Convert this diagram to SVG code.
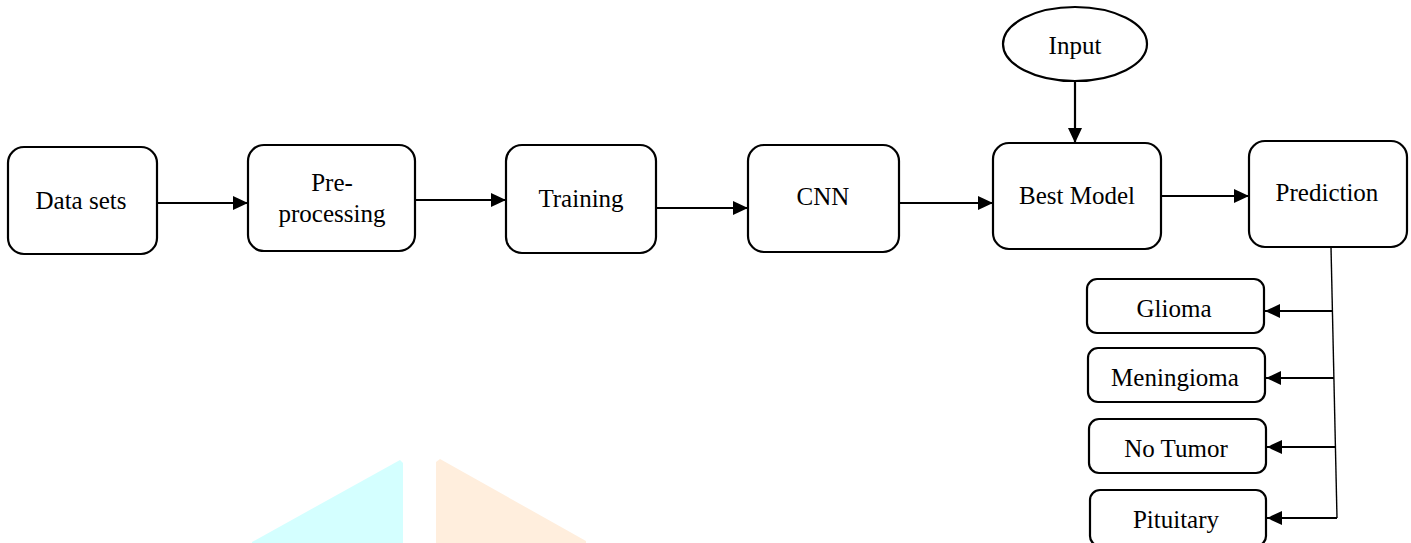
<svg xmlns="http://www.w3.org/2000/svg" width="1411" height="543" viewBox="0 0 1411 543">
<style>
.box{fill:#fff;stroke:#000;stroke-width:2.2}
.lbl{font-family:"Liberation Serif","Times New Roman",serif;font-size:25px;fill:#000;text-anchor:middle}
.con{stroke:#000;stroke-width:2.2;fill:none}
</style>
<defs>
<marker id="ah" markerUnits="userSpaceOnUse" markerWidth="16" markerHeight="14" refX="15" refY="7" orient="auto">
<path d="M0,0 L15,7 L0,14 Z" fill="#000"/>
</marker>
</defs>
<rect width="1411" height="543" fill="#fff"/>
<g id="watermark">
<polygon points="252,542 400,460 403,463 403,543 252,543" fill="#d4ffff"/>
<polygon points="436,462 440,459 586,541 586,543 436,543" fill="#ffeedd"/>
</g>
<g id="connectors">
<path class="con" d="M157,203 H248" marker-end="url(#ah)"/>
<path class="con" d="M415,200 H506" marker-end="url(#ah)"/>
<path class="con" d="M656,208 H748" marker-end="url(#ah)"/>
<path class="con" d="M899,203 H993" marker-end="url(#ah)"/>
<path class="con" d="M1075,82 V143" marker-end="url(#ah)"/>
<path class="con" d="M1161,196 H1249" marker-end="url(#ah)"/>
<path d="M1331,247 L1337,518" stroke="#000" stroke-width="1.4" fill="none"/>
<path class="con" d="M1332.4,311 H1265" marker-end="url(#ah)"/>
<path class="con" d="M1333.9,378 H1266" marker-end="url(#ah)"/>
<path class="con" d="M1335.4,447 H1267" marker-end="url(#ah)"/>
<path class="con" d="M1337,518 H1267" marker-end="url(#ah)"/>
</g>
<g id="datasets"><rect class="box" x="8" y="147" width="149" height="107" rx="16"/><text class="lbl" x="81" y="209">Data sets</text></g>
<g id="preprocessing"><rect class="box" x="248" y="145" width="167" height="106" rx="16"/><text class="lbl" x="332" y="191">Pre-</text><text class="lbl" x="332" y="222">processing</text></g>
<g id="training"><rect class="box" x="506" y="145" width="150" height="108" rx="16"/><text class="lbl" x="581" y="207">Training</text></g>
<g id="cnn"><rect class="box" x="748" y="145" width="151" height="107" rx="16"/><text class="lbl" x="823" y="205">CNN</text></g>
<g id="input"><ellipse class="box" cx="1075" cy="44" rx="72" ry="37"/><text class="lbl" x="1075" y="54">Input</text></g>
<g id="bestmodel"><rect class="box" x="993" y="143" width="168" height="106" rx="16"/><text class="lbl" x="1077" y="204">Best Model</text></g>
<g id="prediction"><rect class="box" x="1249" y="141" width="158" height="106" rx="16"/><text class="lbl" x="1327" y="201">Prediction</text></g>
<g id="glioma"><rect class="box" x="1087" y="279" width="177" height="54" rx="10"/><text class="lbl" x="1174" y="317">Glioma</text></g>
<g id="meningioma"><rect class="box" x="1088" y="348" width="177" height="54" rx="10"/><text class="lbl" x="1175" y="386">Meningioma</text></g>
<g id="notumor"><rect class="box" x="1089" y="419" width="177" height="54" rx="10"/><text class="lbl" x="1176" y="457">No Tumor</text></g>
<g id="pituitary"><rect class="box" x="1090" y="490" width="176" height="56" rx="10"/><text class="lbl" x="1176" y="528">Pituitary</text></g>
</svg>
